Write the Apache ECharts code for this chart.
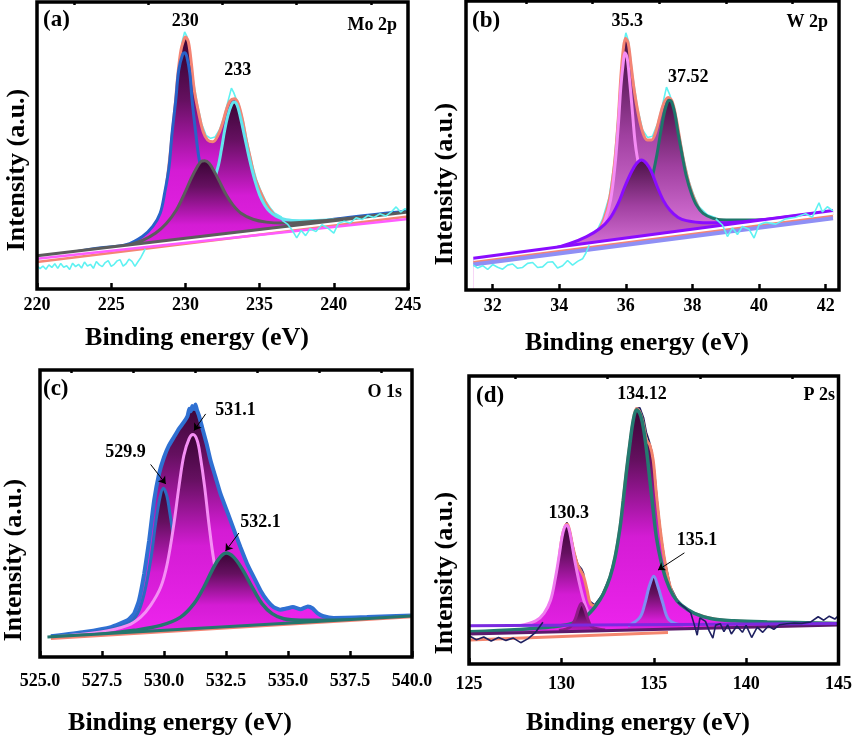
<!DOCTYPE html>
<html>
<head>
<meta charset="utf-8">
<script src="https://cdn.jsdelivr.net/npm/echarts@6/dist/echarts.min.js"></script>
<style>
  html, body { margin: 0; padding: 0; background: #fff; }
  #chart { width: 855px; height: 738px; }
</style>
</head>
<body>
<div id="chart"></div>
<script>
// ---- (a) Mo 2p ----
const moTicks = [220, 225, 230, 235, 240, 245];
const moMinor = [222.5, 227.5, 232.5, 237.5, 242.5];
const moEnvelope = [[220.0, 9.6], [223.1, 11.4], [226.0, 14.3], [227.4, 17.1], [228.0, 21.8], [228.5, 28.7], [228.8, 39.2], [229.05, 50.8], [229.3, 63.5], [229.5, 75.1], [229.7, 83.2], [229.9, 86.9], [230.0, 87.8], [230.2, 86.1], [230.4, 78.6], [230.6, 69.3], [230.9, 61.2], [231.2, 54.8], [231.5, 51.9], [231.85, 51.3], [232.2, 53.6], [232.5, 57.7], [232.75, 62.3], [233.0, 65.5], [233.3, 66.3], [233.55, 64.7], [233.85, 58.9], [234.1, 51.9], [234.4, 45.0], [234.65, 39.2], [235.0, 34.5], [235.35, 30.5], [235.7, 27.6], [236.1, 25.3], [236.8, 23.9], [237.7, 23.2], [238.8, 22.7], [240.0, 23.2], [242.2, 24.1], [245.0, 25.3]];
const mo230 = [[220.0, 10.8], [224.2, 14.3], [226.0, 15.4], [227.1, 18.3], [227.8, 21.8], [228.3, 26.4], [228.6, 33.4], [228.9, 42.6], [229.1, 54.2], [229.35, 65.8], [229.55, 76.2], [229.8, 81.5], [229.95, 82.3], [230.1, 80.9], [230.3, 75.1], [230.45, 65.8], [230.7, 54.2], [230.9, 46.1], [231.2, 38.0], [231.6, 31.1], [232.3, 25.3], [233.2, 22.5], [235.0, 21.0], [237.0, 21.5], [240.0, 24.3], [245.0, 27.2]];
const mo231 = [[220.0, 11.4], [224.2, 13.6], [226.0, 15.1], [227.1, 16.9], [228.0, 19.5], [228.7, 22.7], [229.4, 27.6], [229.95, 33.4], [230.4, 38.6], [230.8, 42.6], [231.05, 44.4], [231.3, 44.7], [231.6, 43.8], [231.95, 40.9], [232.3, 37.4], [232.75, 32.8], [233.2, 29.3], [233.75, 26.4], [234.55, 24.3], [235.45, 23.3], [236.6, 23.0], [237.7, 23.2], [240.0, 24.1], [245.0, 26.8]];
const mo233 = [[220.0, 10.8], [226.5, 15.1], [228.7, 17.7], [230.06, 20.6], [230.96, 24.1], [231.86, 36.8], [232.2, 42.6], [232.42, 48.4], [232.65, 55.4], [232.87, 60.6], [233.1, 64.1], [233.28, 65.2], [233.48, 64.1], [233.7, 60.0], [233.99, 53.1], [234.33, 45.0], [234.67, 38.0], [235.0, 32.8], [235.34, 29.3], [235.68, 27.0], [236.13, 25.3], [236.8, 24.1], [237.7, 23.8], [239.95, 24.1], [245.0, 25.8]];
const moBgGrey = [[220, 11.6], [245, 26.8]];
const moBgPink = [[220, 10.5], [245, 24.4]];
const moBgSalmon = [[220, 9.4], [245, 25.3]];
const moRawCore = [[227.0, 16.5], [227.5, 18.5], [228.0, 22.5], [228.4, 28.0], [228.7, 36.0], [229.0, 49.0], [229.3, 64.5], [229.55, 78.0], [229.8, 86.5], [229.95, 89.6], [230.1, 88.0], [230.3, 83.0], [230.55, 72.0], [230.8, 64.5], [231.1, 57.5], [231.4, 53.5], [231.7, 52.5], [232.0, 53.0], [232.3, 55.5], [232.6, 60.0], [232.9, 66.0], [233.1, 70.0], [233.25, 68.5], [233.4, 66.5], [233.6, 64.5], [233.9, 58.5], [234.2, 50.5], [234.5, 43.5], [234.8, 38.0], [235.1, 34.0], [235.4, 30.8], [235.7, 28.4], [236.0, 26.5], [236.5, 25.0]];
const moRawTail = [[220.0, 8.2], [220.2, 7.1], [220.4, 8.0], [220.6, 6.9], [220.8, 8.4], [221.0, 7.5], [221.2, 8.8], [221.4, 7.2], [221.6, 8.9], [221.8, 7.6], [222.0, 8.1], [222.2, 6.8], [222.4, 9.0], [222.6, 7.8], [222.8, 8.6], [223.0, 7.3], [223.2, 9.4], [223.4, 8.0], [223.6, 8.6], [223.8, 7.2], [224.0, 9.6], [224.2, 8.4], [224.4, 7.8], [224.6, 9.2], [224.8, 9.9], [225.0, 7.9], [225.2, 8.6], [225.4, 9.8], [225.6, 10.2], [225.8, 8.0], [226.0, 8.8], [226.2, 10.4], [226.4, 9.6], [226.6, 7.9], [226.8, 9.5], [227.0, 11.0], [227.3, 14.0], null,
  [236.5, 24.0], [236.9, 22.5], [237.2, 20.5], [237.5, 17.8], [237.8, 20.4], [238.1, 18.6], [238.4, 21.0], [238.8, 20.0], [239.2, 22.4], [239.6, 21.2], [240.0, 19.5], [240.3, 22.8], [240.7, 23.6], [241.1, 23.0], [241.5, 24.8], [241.9, 24.2], [242.3, 25.6], [242.7, 24.9], [243.1, 26.2], [243.5, 25.4], [243.9, 27.0], [244.2, 28.6], [244.5, 26.8], [244.8, 28.0], [245.0, 27.2]];

// ---- (b) W 2p ----
const wTicks = [32, 34, 36, 38, 40, 42];
const wMinor = [33, 35, 37, 39, 41];
const wEnvelope = [[31.42, 9.2], [32.82, 11.5], [33.82, 13.3], [34.62, 15.6], [35.12, 19.6], [35.37, 25.4], [35.54, 33.4], [35.67, 45.0], [35.77, 58.8], [35.85, 73.8], [35.92, 83.0], [35.99, 87.1], [36.07, 85.4], [36.15, 78.4], [36.25, 69.2], [36.37, 61.1], [36.5, 54.8], [36.64, 51.9], [36.77, 51.9], [36.9, 54.8], [37.02, 60.0], [37.14, 64.6], [37.27, 66.6], [37.39, 65.2], [37.52, 58.8], [37.64, 50.7], [37.77, 42.7], [37.92, 35.8], [38.07, 31.1], [38.22, 27.7], [38.42, 25.4], [38.82, 24.2], [39.32, 23.3], [39.82, 23.1], [40.82, 24.2], [42.22, 25.6]];
const w35 = [[31.42, 9.0], [33.82, 12.5], [34.62, 14.8], [35.12, 18.7], [35.37, 24.0], [35.54, 31.1], [35.67, 42.7], [35.77, 56.5], [35.85, 70.4], [35.92, 78.4], [35.97, 82.1], [36.04, 80.2], [36.12, 71.5], [36.2, 61.1], [36.27, 51.9], [36.34, 46.1], [36.52, 35.8], [36.82, 26.5], [37.32, 22.0], [38.82, 22.8], [42.22, 27.3]];
const w36 = [[31.42, 10.4], [32.82, 12.1], [33.82, 14.4], [34.32, 16.1], [34.82, 18.5], [35.22, 21.3], [35.52, 24.8], [35.77, 30.0], [35.97, 35.8], [36.17, 40.9], [36.32, 43.8], [36.47, 45.0], [36.62, 43.8], [36.77, 40.9], [36.94, 35.8], [37.12, 31.1], [37.32, 27.7], [37.57, 25.1], [37.82, 24.0], [38.32, 23.3], [38.82, 23.3], [39.82, 24.0], [42.22, 27.1]];
const w37 = [[31.42, 9.7], [33.82, 12.5], [35.82, 17.1], [36.32, 22.8], [36.62, 31.1], [36.82, 40.4], [36.94, 47.3], [37.04, 54.2], [37.15, 61.1], [37.24, 64.8], [37.3, 65.7], [37.37, 65.2], [37.47, 61.1], [37.57, 54.2], [37.7, 46.1], [37.82, 39.2], [37.97, 33.4], [38.12, 29.4], [38.32, 26.5], [38.62, 24.8], [39.02, 24.2], [39.82, 24.2], [42.22, 26.5]];
const wBgPurple = [[31.42, 11.0], [42.22, 27.5]];
const wBgLav = [[31.42, 8.8], [42.22, 24.8]];
const wBgSalmon = [[31.42, 9.6], [42.22, 25.6]];
const wRawCore = [[34.9, 18.3], [35.1, 19.8], [35.3, 24.5], [35.5, 32.2], [35.65, 44.0], [35.8, 65.0], [35.92, 84.0], [36.0, 89.0], [36.08, 86.0], [36.2, 74.5], [36.35, 63.0], [36.5, 55.5], [36.65, 52.8], [36.8, 53.2], [36.95, 57.5], [37.1, 64.0], [37.22, 70.2], [37.32, 67.5], [37.45, 63.0], [37.6, 54.2], [37.75, 44.8], [37.9, 37.5], [38.05, 32.4], [38.2, 28.8], [38.45, 26.0], [38.7, 25.0]];
const wRawTail = [[31.42, 8.6], [31.55, 7.6], [31.7, 8.4], [31.85, 7.1], [32.0, 8.8], [32.15, 7.9], [32.3, 7.2], [32.45, 8.6], [32.6, 9.0], [32.75, 7.5], [32.9, 7.8], [33.05, 9.2], [33.2, 9.5], [33.35, 7.8], [33.5, 8.0], [33.65, 9.6], [33.8, 9.8], [33.95, 7.6], [34.1, 8.4], [34.25, 10.2], [34.4, 8.6], [34.55, 9.9], [34.7, 10.8], [34.8, 12.8], [34.9, 15.5], null,
  [38.7, 24.6], [38.9, 22.5], [39.05, 18.5], [39.2, 21.5], [39.35, 19.2], [39.5, 22.0], [39.7, 21.0], [39.85, 18.0], [40.0, 22.6], [40.2, 23.4], [40.5, 22.8], [40.8, 24.6], [41.1, 25.2], [41.4, 26.4], [41.6, 25.2], [41.8, 30.2], [41.9, 27.0], [42.05, 28.8], [42.22, 27.4]];

// ---- (c) O 1s ----
const oTicks = [525, 527.5, 530, 532.5, 535, 537.5, 540];
const oMinor = [526.25, 528.75, 531.25, 533.75, 536.25, 538.75];
const oEnvelope = [[525.44, 7.2], [526.78, 8.7], [527.86, 10.4], [528.53, 12.8], [528.79, 15.1], [528.99, 19.7], [529.2, 29.0], [529.4, 40.6], [529.6, 54.5], [529.8, 63.8], [530.0, 69.6], [530.2, 73.7], [530.4, 76.6], [530.6, 79.5], [530.8, 81.8], [530.95, 84.0], [531.02, 86.5], [531.08, 85.6], [531.14, 87.5], [531.2, 86.4], [531.27, 88.0], [531.33, 86.0], [531.41, 84.1], [531.54, 80.0], [531.72, 74.2], [531.88, 68.4], [532.08, 62.6], [532.28, 56.8], [532.48, 52.2], [532.68, 47.6], [532.88, 42.9], [533.08, 38.3], [533.35, 32.5], [533.62, 27.8], [533.89, 23.2], [534.16, 19.7], [534.42, 17.4], [534.69, 16.5], [534.9, 16.8], [535.2, 17.4], [535.5, 16.6], [535.8, 17.6], [536.0, 16.9], [536.2, 15.2], [536.43, 14.2], [536.84, 13.6], [538.18, 13.9], [540.0, 14.5]];
const o529 = [[525.44, 7.2], [527.45, 9.0], [528.53, 11.6], [528.93, 15.1], [529.2, 22.0], [529.46, 33.6], [529.66, 46.4], [529.84, 55.7], [529.97, 58.8], [530.11, 56.3], [530.24, 49.9], [530.38, 41.8], [530.54, 31.3], [530.8, 19.7], [531.21, 12.8], [532.14, 9.8], [540.0, 13.9]];
const o531 = [[525.44, 7.0], [527.45, 8.7], [528.53, 11.0], [529.06, 13.9], [529.46, 18.0], [529.87, 24.4], [530.13, 32.5], [530.4, 46.4], [530.6, 59.2], [530.8, 70.2], [531.01, 76.0], [531.17, 77.5], [531.34, 75.4], [531.47, 69.6], [531.64, 59.2], [531.81, 46.4], [532.01, 33.6], [532.28, 22.0], [532.81, 13.9], [533.62, 11.5], [540.0, 14.3]];
const o532 = [[525.44, 7.0], [527.45, 7.9], [528.79, 9.3], [529.87, 11.0], [530.67, 13.9], [531.21, 18.6], [531.61, 24.4], [531.94, 30.2], [532.21, 34.2], [532.51, 36.2], [532.81, 34.8], [533.15, 30.7], [533.55, 24.4], [533.95, 18.6], [534.36, 15.1], [534.83, 13.3], [535.5, 12.8], [536.84, 12.8], [540.0, 14.2]];
const oBgTeal = [[525.3, 6.95], [540.0, 14.3]];
const oBgSalmon = [[525.44, 6.4], [540.0, 13.9]];

// ---- (d) P 2s ----
const pTicks = [125, 130, 135, 140, 145];
const pMinor = [127.5, 132.5, 137.5, 142.5];
const pEnvelope = [[125.04, 9.5], [126.82, 10.1], [128.26, 11.2], [128.97, 14.1], [129.42, 19.9], [129.69, 26.8], [129.87, 36.1], [130.04, 44.2], [130.19, 47.6], [130.31, 48.6], [130.44, 46.5], [130.62, 40.7], [130.85, 34.9], [131.03, 32.6], [131.21, 30.3], [131.39, 25.7], [131.57, 21.0], [131.83, 20.1], [132.28, 24.5], [132.64, 30.3], [132.91, 37.2], [133.18, 47.6], [133.53, 67.3], [133.89, 84.6], [134.07, 88.7], [134.25, 87.5], [134.43, 83.5], [134.61, 77.7], [134.79, 76.0], [134.97, 70.8], [135.14, 59.2], [135.38, 45.3], [135.59, 36.1], [135.95, 25.7], [136.48, 20.5], [137.2, 17.6], [138.45, 15.5], [140.24, 14.7], [145.04, 14.1]];
const p134 = [[125.04, 11.2], [127.72, 12.0], [129.51, 12.9], [130.58, 14.1], [131.3, 16.4], [131.83, 19.9], [132.28, 24.5], [132.64, 30.3], [132.91, 37.2], [133.18, 47.6], [133.35, 56.9], [133.53, 67.3], [133.71, 76.5], [133.89, 84.6], [134.07, 88.3], [134.25, 86.9], [134.43, 82.3], [134.61, 74.2], [134.79, 63.8], [134.97, 53.4], [135.14, 44.2], [135.38, 36.1], [135.68, 29.1], [136.04, 23.9], [136.48, 20.5], [137.2, 17.6], [138.09, 15.8], [139.35, 15.0], [141.14, 14.6], [145.04, 14.1]];
const p130 = [[127.72, 13.3], [128.61, 15.0], [129.06, 17.6], [129.42, 22.2], [129.69, 30.3], [129.87, 37.2], [130.04, 44.2], [130.17, 47.4], [130.28, 48.2], [130.4, 47.1], [130.55, 42.4], [130.72, 36.1], [130.94, 29.1], [131.21, 22.2], [131.48, 17.6], [131.83, 14.7], [132.37, 13.5], [133.5, 12.9]];
const p131 = [[129.87, 11.6], [130.49, 12.9], [130.76, 15.8], [130.94, 19.3], [131.08, 21.0], [131.24, 19.3], [131.42, 15.8], [131.65, 12.9], [132.37, 11.8]];
const p135 = [[133.6, 13.2], [134.25, 16.2], [134.52, 21.0], [134.75, 26.8], [135.0, 30.5], [135.23, 26.8], [135.5, 21.0], [135.77, 15.8], [136.22, 13.9], [136.6, 13.6]];
const pBgDark = [[125.0, 10.4], [145.0, 13.5]];
const pBgViolet = [[125.0, 13.3], [145.0, 14.1]];
const pBgSalmon = [[125.04, 8.3], [135.77, 10.9]];
const pRawCore = [[129.0, 14.5], [129.4, 20.0], [129.7, 27.5], [129.9, 37.5], [130.1, 46.0], [130.3, 49.2], [130.5, 45.2], [130.7, 38.8], [130.9, 34.5], [131.1, 33.0], [131.2, 31.5], [131.3, 25.0], [131.5, 22.0], [131.8, 20.5], [132.2, 24.0], [132.6, 30.0], [132.9, 37.2], [133.2, 48.5], [133.5, 66.0], [133.8, 81.0], [134.05, 88.8], [134.25, 89.0], [134.45, 85.5], [134.6, 80.5], [134.75, 77.5], [134.9, 73.8], [135.05, 66.5], [135.2, 56.0], [135.4, 44.5], [135.6, 36.0], [135.9, 27.0], [136.3, 21.8]];
const pRawTail = [[125.0, 9.8], [125.4, 8.4], [125.8, 9.4], [126.2, 8.0], [126.6, 9.2], [127.0, 8.2], [127.4, 9.0], [127.8, 7.4], [128.2, 8.8], [128.6, 11.0], [129.0, 14.5], null,
  [136.3, 21.5], [136.7, 19.5], [137.0, 17.8], [137.2, 13.5], [137.35, 10.0], [137.5, 16.0], [137.8, 14.8], [138.0, 11.5], [138.2, 9.0], [138.35, 13.5], [138.6, 14.0], [138.8, 11.2], [139.0, 13.6], [139.2, 10.4], [139.5, 13.2], [139.8, 11.0], [140.0, 13.4], [140.3, 9.2], [140.6, 12.8], [140.9, 11.0], [141.2, 13.2], [141.5, 12.0], [141.8, 13.6], [142.2, 14.0], [142.6, 14.2], [143.0, 14.1], [143.5, 14.6], [143.9, 16.4], [144.2, 15.2], [144.5, 16.6], [144.8, 15.6], [145.0, 16.8]];

const SERIF = "'Liberation Serif', 'Times New Roman', serif";

function grad(stops) {
  return { type: 'linear', x: 0, y: 0, x2: 0, y2: 1,
    colorStops: stops.map(s => ({ offset: s[0], color: s[1] })) };
}
const deep = () => grad([[0, '#3a0535'], [0.2, '#651060'], [0.5, '#d41cd4'], [1, '#f526f5']]);
const soft = () => grad([[0, '#4a1246'], [0.35, '#a040a0'], [0.7, '#dc76dc'], [1, '#e98ae9']]);

function curve(g, data, color, width, extra) {
  return Object.assign({
    type: 'line', xAxisIndex: g * 2, yAxisIndex: g, data,
    symbol: 'none', smooth: 0.35, silent: true,
    lineStyle: { color, width }, emphasis: { disabled: true }
  }, extra || {});
}
function peak(g, data, color, width, fill, extra) {
  return curve(g, data, color, width, Object.assign({ areaStyle: { color: fill, opacity: 1, origin: 'start' } }, extra || {}));
}
function straight(g, data, color, width, extra) {
  return curve(g, data, color, width, Object.assign({ smooth: false }, extra || {}));
}
function mask(g, data) {
  return curve(g, data, '#fff', 0, { smooth: false, lineStyle: { width: 0, opacity: 0 },
    areaStyle: { color: '#fff', opacity: 1, origin: 'start' } });
}
function labels(items, arrows) {
  const out = {
    markPoint: {
      silent: true, animation: false, symbol: 'circle', symbolSize: 1,
      itemStyle: { color: 'rgba(0,0,0,0)' },
      label: { show: true, position: 'inside', formatter: '{b}', color: '#000',
        fontFamily: SERIF, fontWeight: 'bold', fontSize: 18 },
      data: items.map(it => ({ name: it[0], coord: it[1] }))
    }
  };
  if (arrows) {
    out.markLine = {
      silent: true, animation: false, symbol: ['none', 'arrow'], symbolSize: 7,
      lineStyle: { color: '#000', width: 1, type: 'solid' }, label: { show: false },
      data: arrows.map(a => [{ coord: a[0] }, { coord: a[1] }])
    };
  }
  return out;
}

function xAxes(g, min, max, major, minor, margin, fmt) {
  return [
    { gridIndex: g, type: 'value', min, max, z: 10,
      axisLine: { show: false }, splitLine: { show: false },
      axisTick: { show: true, inside: true, length: 6, lineStyle: { color: '#000', width: 2.5 }, customValues: major },
      axisLabel: { customValues: major, margin, color: '#000', fontFamily: SERIF, fontWeight: 'bold',
        fontSize: 18, showMinLabel: true, showMaxLabel: true, formatter: fmt || (v => String(v)) } },
    { gridIndex: g, type: 'value', min, max, z: 10,
      axisLine: { show: false }, splitLine: { show: false }, axisLabel: { show: false },
      axisTick: { show: true, inside: true, length: 3, lineStyle: { color: '#000', width: 2.5 }, customValues: minor } }
  ];
}
function grid(left, top, width, height) {
  return { left, top, width, height, show: true, borderColor: '#000', borderWidth: 3.5,
    backgroundColor: 'transparent', z: 10 };
}
function text(x, y, str, size, align, rot) {
  return { type: 'text', x, y, rotation: rot || 0, silent: true, z: 20,
    style: { text: str, fill: '#000', font: 'bold ' + size + 'px ' + SERIF,
      textAlign: align || 'center', textVerticalAlign: 'middle' } };
}

const cyan = '#5ff2f2', salmon = '#f58474', navy = '#1e2060';

const series = [
  // (a)
  curve(0, moRawCore, cyan, 1.6, { smooth: false }),
  peak(0, moEnvelope, salmon, 3, deep()),
  peak(0, mo230, '#2862c8', 3, deep()),
  peak(0, mo233, '#62e6ef', 3, deep()),
  peak(0, mo231, '#5c5c5c', 3, deep()),
  mask(0, moBgGrey),
  straight(0, moBgSalmon, salmon, 2.5),
  straight(0, moBgPink, '#ff5cff', 2.5),
  straight(0, moBgGrey, '#5c5c5c', 3),
  curve(0, moRawTail, cyan, 1.6, Object.assign({ smooth: false },
    labels([['230', [229.99, 93.3]], ['233', [233.52, 76.1]]]))),
  // (b)
  curve(1, wRawCore, cyan, 1.6, { smooth: false }),
  peak(1, wEnvelope, salmon, 3, soft()),
  peak(1, w35, '#f58cf5', 3, soft()),
  peak(1, w37, '#1f766b', 3, soft()),
  peak(1, w36, '#8a0cff', 3, soft()),
  mask(1, wBgPurple),
  straight(1, wBgSalmon, salmon, 2.5),
  straight(1, wBgLav, '#8f8ff5', 4),
  straight(1, wBgPurple, '#8a0cff', 3),
  curve(1, wRawTail, cyan, 1.6, Object.assign({ smooth: false },
    labels([['35.3', [36.04, 92.8]], ['37.52', [37.87, 73.7]]]))),
  // (c)
  peak(2, oEnvelope, '#2f70d2', 4, deep(), { smooth: 0.15 }),
  peak(2, o529, '#2b6cbf', 3, deep()),
  peak(2, o531, '#f58ff5', 3, deep()),
  peak(2, o532, '#24766e', 3.5, deep()),
  mask(2, oBgTeal),
  straight(2, oBgSalmon, salmon, 2.5),
  straight(2, oBgTeal, '#24766e', 3, labels(
    [['529.9', [528.45, 71.2]], ['531.1', [532.88, 86.1]], ['532.1', [533.89, 47.0]]],
    [[[529.46, 67.1], [530.07, 60.3]], [[531.68, 84.7], [531.21, 78.9]], [[533.02, 43.2], [532.48, 36.9]]])),
  // (d)
  curve(3, pRawCore, navy, 1.6, { smooth: false }),
  peak(3, pEnvelope, '#f2846c', 3, deep()),
  peak(3, p130, '#f07cf0', 3, deep()),
  mask(3, pBgViolet),
  peak(3, p134, '#237a70', 3.5, deep()),
  peak(3, p131, '#8e1a86', 3, deep()),
  peak(3, p135, '#7f8ef2', 3, deep()),
  mask(3, pBgDark),
  straight(3, pBgSalmon, '#f4866e', 3),
  straight(3, pBgDark, '#5c1a6c', 3),
  straight(3, pBgViolet, '#7b2ae0', 3),
  curve(3, pRawTail, navy, 1.6, Object.assign({ smooth: false }, labels(
    [['134.12', [134.36, 93.8]], ['130.3', [130.40, 52.3]], ['135.1', [137.34, 43.0]]],
    [[[136.66, 38.6], [135.23, 32.6]]])))
];
// each series gets its own layer so a later fill hides earlier lines
series.forEach((s, i) => { s.z = 1 + i * 0.08; });

const chart = echarts.init(document.getElementById('chart'));
chart.setOption({
  backgroundColor: '#fff',
  animation: false,
  grid: [grid(37, 2, 371, 287), grid(466, 1, 373, 289), grid(40, 370, 372, 287), grid(469, 376, 374, 288)],
  xAxis: [].concat(
    xAxes(0, 220, 245, moTicks, moMinor, 7),
    xAxes(1, 31.2, 42.4, wTicks, wMinor, 7),
    xAxes(2, 525, 540, oTicks, oMinor, 15, v => v.toFixed(1)),
    xAxes(3, 125, 145, pTicks, pMinor, 11)
  ),
  yAxis: [0, 1, 2, 3].map(g => ({ gridIndex: g, type: 'value', min: 0, max: 100, show: false })),
  series,
  graphic: [
    text(43, 20, '(a)', 23, 'left'),
    text(397, 25, 'Mo 2p', 18, 'right'),
    text(197, 338, 'Binding energy (eV)', 26),
    text(17, 170, 'Intensity (a.u.)', 26, 'center', Math.PI / 2),
    text(472, 21, '(b)', 23, 'left'),
    text(828, 22, 'W 2p', 18, 'right'),
    text(637, 343, 'Binding energy (eV)', 26),
    text(445, 184, 'Intensity (a.u.)', 26, 'center', Math.PI / 2),
    text(43, 389, '(c)', 23, 'left'),
    text(402, 392, 'O 1s', 18, 'right'),
    text(180, 723, 'Binding energy (eV)', 26),
    text(14, 560, 'Intensity (a.u.)', 26, 'center', Math.PI / 2),
    text(476, 396, '(d)', 23, 'left'),
    text(835, 395, 'P 2s', 18, 'right'),
    text(638, 723, 'Binding energy (eV)', 26),
    text(445, 573, 'Intensity (a.u.)', 26, 'center', Math.PI / 2)
  ]
});
</script>
</body>
</html>
